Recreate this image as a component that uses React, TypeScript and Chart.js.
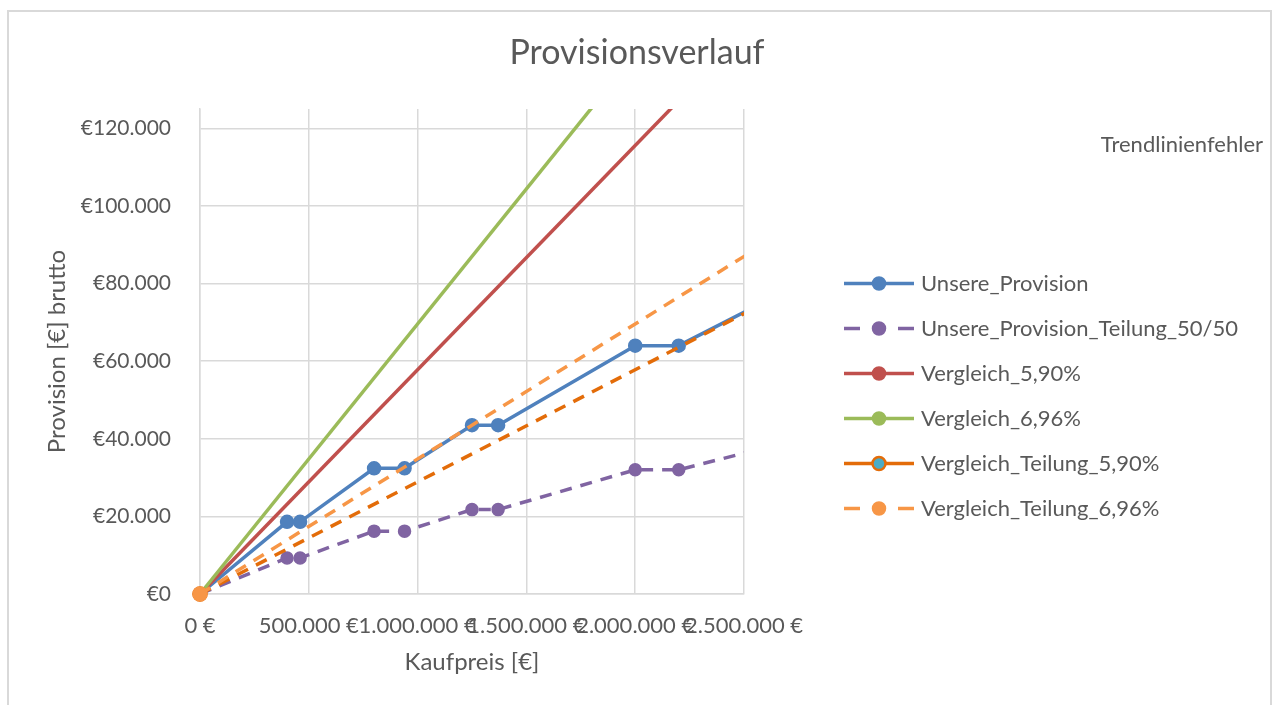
import React, { useEffect, useRef } from "react";
import { Chart, registerables } from "chart.js";

Chart.register(...registerables);

// ---- data ----
const kaufpreis = [0, 400000, 460000, 800000, 940000, 1250000, 1370000, 2000000, 2200000, 3000000];
const unsereProvision = [0, 18600, 18600, 32400, 32400, 43500, 43500, 64000, 64000, 87000];
const unsereProvisionTeilung = [0, 9300, 9300, 16200, 16200, 21750, 21750, 32000, 32000, 43500];
const vergleichKaufpreis = [0, 3000000];
const vergleich590 = [0, 173400];
const vergleich696 = [0, 208800];
const vergleichTeilung590 = [0, 86700];
const vergleichTeilung696 = [0, 104400];

const seriesLabels = [
  "Unsere_Provision",
  "Unsere_Provision_Teilung_50/50",
  "Vergleich_5,90%",
  "Vergleich_6,96%",
  "Vergleich_Teilung_5,90%",
  "Vergleich_Teilung_6,96%",
];
const xTickValues = [0, 500000, 1000000, 1500000, 2000000, 2500000];
const yTickValues = [0, 20000, 40000, 60000, 80000, 100000, 120000];
const chartTitle = "Provisionsverlauf";
const xAxisTitle = "Kaufpreis [€]";
const yAxisTitle = "Provision [€] brutto";
const noteText = "Trendlinienfehler";

// ---- styles ----
const TEXT = "#595959";
const GRID = "#d9d9d9";
const FONT = "Lato";
const legendDashed = [false, true, false, false, false, true];

function group(v: number) {
  return Math.round(v)
    .toString()
    .replace(/\B(?=(\d{3})+(?!\d))/g, ".");
}
const fmtX = (v: number) => `${group(v)} €`;
const fmtY = (v: number) => `€${group(v)}`;

const pts = (xs: number[], ys: number[]) => xs.map((x, i) => ({ x, y: ys[i] }));

const customPlugin = {
  id: "customDecor",
  beforeDraw(chart: any) {
    const ctx = chart.ctx;
    ctx.save();
    ctx.fillStyle = "#ffffff";
    ctx.fillRect(0, 0, chart.width, chart.height);
    ctx.restore();
  },
  afterDraw(chart: any) {
    const ctx = chart.ctx;
    ctx.save();
    // frame
    ctx.strokeStyle = GRID;
    ctx.lineWidth = 2;
    ctx.strokeRect(8, 11, 1263, 720);
    // legend
    const x0 = 844;
    const x1 = 914;
    const xm = 879;
    chart.data.datasets.forEach((ds: any, i: number) => {
      const y = 283.5 + 45 * i;
      ctx.strokeStyle = ds.borderColor;
      ctx.lineWidth = 3.5;
      ctx.setLineDash([]);
      ctx.lineCap = "butt";
      ctx.beginPath();
      if (legendDashed[i]) {
        ctx.moveTo(x0, y);
        ctx.lineTo(x0 + 16, y);
        ctx.moveTo(x1 - 16, y);
        ctx.lineTo(x1, y);
      } else {
        ctx.moveTo(x0, y);
        ctx.lineTo(x1, y);
      }
      ctx.stroke();
      ctx.beginPath();
      ctx.arc(xm, y, 6.5, 0, Math.PI * 2);
      ctx.fillStyle = ds.pointBackgroundColor;
      ctx.fill();
      ctx.lineWidth = ds.pointBorderWidth;
      ctx.strokeStyle = ds.pointBorderColor;
      ctx.stroke();
      ctx.fillStyle = TEXT;
      ctx.font = `22px ${FONT}`;
      ctx.textAlign = "left";
      ctx.textBaseline = "middle";
      ctx.fillText(ds.label, 921, y);
    });
    ctx.font = `22px ${FONT}`;
    ctx.fillStyle = TEXT;
    ctx.textAlign = "right";
    ctx.textBaseline = "middle";
    ctx.fillText(noteText, 1263, 145);
    ctx.restore();
  },
};

export default function App() {
  const ref = useRef<HTMLCanvasElement | null>(null);
  useEffect(() => {
    document.body.style.margin = "0";
    const canvas = ref.current!;
    const clip = { left: 12, bottom: 12, right: 0, top: 0 };
    const chart = new Chart(canvas, {
      type: "line",
      data: {
        datasets: [
          {
            label: seriesLabels[0],
            data: pts(kaufpreis, unsereProvision),
            borderColor: "#4F81BD",
            backgroundColor: "#4F81BD",
            pointBackgroundColor: "#4F81BD",
            pointBorderColor: "#4F81BD",
            pointBorderWidth: 1.5,
            pointRadius: 6.5,
            borderWidth: 3.5,
            order: 6,
            clip,
          },
          {
            label: seriesLabels[1],
            data: pts(kaufpreis, unsereProvisionTeilung),
            borderColor: "#8064A2",
            backgroundColor: "#8064A2",
            pointBackgroundColor: "#8064A2",
            pointBorderColor: "#8064A2",
            pointBorderWidth: 1.5,
            pointRadius: 6,
            borderWidth: 3.5,
            borderDash: [12, 9],
            order: 5,
            clip,
          },
          {
            label: seriesLabels[2],
            data: pts(vergleichKaufpreis, vergleich590),
            borderColor: "#C0504D",
            backgroundColor: "#C0504D",
            pointBackgroundColor: "#C0504D",
            pointBorderColor: "#C0504D",
            pointBorderWidth: 1.5,
            pointRadius: 6.5,
            borderWidth: 3.5,
            order: 4,
            clip,
          },
          {
            label: seriesLabels[3],
            data: pts(vergleichKaufpreis, vergleich696),
            borderColor: "#9BBB59",
            backgroundColor: "#9BBB59",
            pointBackgroundColor: "#9BBB59",
            pointBorderColor: "#9BBB59",
            pointBorderWidth: 1.5,
            pointRadius: 6.5,
            borderWidth: 3.5,
            order: 3,
            clip,
          },
          {
            label: seriesLabels[4],
            data: pts(vergleichKaufpreis, vergleichTeilung590),
            borderColor: "#E36C09",
            backgroundColor: "#E36C09",
            pointBackgroundColor: "#4BACC6",
            pointBorderColor: "#E36C09",
            pointBorderWidth: 2.5,
            pointRadius: 6.5,
            borderWidth: 3.5,
            borderDash: [12, 9],
            order: 2,
            clip,
          },
          {
            label: seriesLabels[5],
            data: pts(vergleichKaufpreis, vergleichTeilung696),
            borderColor: "#F79646",
            backgroundColor: "#F79646",
            pointBackgroundColor: "#F79646",
            pointBorderColor: "#F79646",
            pointBorderWidth: 1.5,
            pointRadius: 7,
            borderWidth: 3.5,
            borderDash: [12, 9],
            order: 1,
            clip,
          },
        ],
      },
      options: {
        animation: false,
        responsive: false,
        devicePixelRatio: 1,
        events: [],
        elements: { line: { tension: 0 } },
        layout: { padding: 0 },
        plugins: {
          legend: { display: false },
          tooltip: { enabled: false },
          title: {
            display: true,
            text: chartTitle,
            color: TEXT,
            font: { family: FONT, size: 34, weight: "normal", lineHeight: 1.2 },
            padding: { top: 32.6, bottom: 35.6 },
          },
        },
        scales: {
          x: {
            type: "linear",
            min: 0,
            max: 2500000,
            afterBuildTicks: (s: any) => {
              s.ticks = xTickValues.map((v) => ({ value: v }));
            },
            afterFit: (s: any) => {
              s.height = 111;
            },
            ticks: {
              autoSkip: false,
              maxRotation: 0,
              minRotation: 0,
              padding: 19,
              color: TEXT,
              font: { family: FONT, size: 22 },
              callback: (v: any) => fmtX(Number(v)),
            },
            grid: { color: GRID, lineWidth: 1.5, drawTicks: false },
            border: { color: GRID, width: 1.5 },
            title: {
              display: true,
              text: xAxisTitle,
              color: TEXT,
              font: { family: FONT, size: 24, lineHeight: 1.2 },
              padding: { top: 0, bottom: 28 },
            },
          },
          y: {
            type: "linear",
            min: 0,
            max: 125000,
            afterBuildTicks: (s: any) => {
              s.ticks = yTickValues.map((v) => ({ value: v }));
            },
            afterFit: (s: any) => {
              s.width = 200;
            },
            ticks: {
              padding: 29,
              color: TEXT,
              font: { family: FONT, size: 21 },
              callback: (v: any) => fmtY(Number(v)),
            },
            grid: { color: GRID, lineWidth: 1.5, drawTicks: false },
            border: { color: GRID, width: 1.5 },
            title: {
              display: true,
              text: yAxisTitle,
              color: TEXT,
              font: { family: FONT, size: 24, lineHeight: 1.2 },
              padding: { top: 43, bottom: 0 },
            },
          },
          spacer: {
            type: "linear",
            position: "right",
            display: true,
            grid: { display: false, drawTicks: false },
            border: { display: false },
            ticks: { display: false },
            afterFit: (s: any) => {
              s.width = 530;
            },
          },
        },
      },
      plugins: [customPlugin],
    } as any);
    return () => chart.destroy();
  }, []);
  return (
    <div style={{ position: "relative", width: 1274, height: 705 }}>
      <canvas ref={ref} width={1274} height={705} style={{ display: "block" }} />
    </div>
  );
}
